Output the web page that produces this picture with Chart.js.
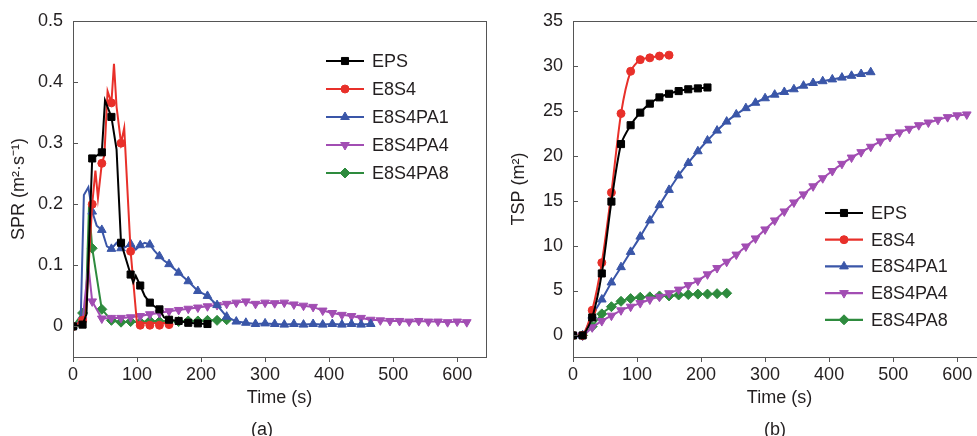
<!DOCTYPE html>
<html>
<head>
<meta charset="utf-8">
<script src="https://cdn.jsdelivr.net/npm/chart.js@4.4.0/dist/chart.umd.min.js"></script>
<style>
body{margin:0;width:977px;height:436px;overflow:hidden;background:#fff;font-family:"Liberation Sans",Arial,sans-serif}
.panel{position:absolute;top:0;width:500px;height:436px}
.cap{position:absolute;top:419px;font-size:18px;line-height:20px;color:#231f20;width:60px;text-align:center}
</style>
</head>
<body>
<div class="panel" style="left:0"><canvas id="spr" width="500" height="436"></canvas></div>
<div class="panel" style="left:500px"><canvas id="tsp" width="500" height="436"></canvas></div>
<div class="cap" style="left:232px">(a)</div>
<div class="cap" style="left:745px">(b)</div>
<script>
// series names
const names = ["EPS","E8S4","E8S4PA1","E8S4PA4","E8S4PA8"];

// (a) smoke production rate, m2/s
const epsT   = [0,15,21,30,45,50,60,68,75,90,94,98,105,112,120,127,135,142,150,165,180,195,210];
const epsSPR = [0,0.003,0.02,0.275,0.285,0.37,0.343,0.29,0.137,0.085,0.072,0.083,0.067,0.05,0.039,0.033,0.028,0.015,0.011,0.009,0.006,0.005,0.004];

const e8s4T   = [0,15,20,30,35,39,45,49,54,60,64,68,75,80,90,100,105,112,120,127,135,142,150];
const e8s4SPR = [0,0.01,0.02,0.2,0.255,0.21,0.267,0.28,0.385,0.366,0.43,0.36,0.3,0.325,0.123,0.004,0.002,0.006,0.002,0.006,0.002,0.006,0.003];

const pa1T   = [0,12,17,24,30,37,45,53,60,68,75,82,90,98,105,112,120,127,135,142,150,165,180,195,210,225,240,255,270,285,300,315,330,345,360,375,390,405,420,435,450,465];
const pa1SPR = [0,0.01,0.215,0.228,0.188,0.165,0.158,0.131,0.127,0.137,0.128,0.13,0.135,0.126,0.133,0.137,0.134,0.124,0.115,0.108,0.102,0.088,0.074,0.058,0.05,0.035,0.016,0.008,0.006,0.004,0.005,0.004,0.003,0.004,0.003,0.004,0.003,0.004,0.003,0.004,0.003,0.004];

const pa4T   = [0,15,24,30,45,60,75,90,105,120,135,150,165,180,195,210,225,240,255,270,285,300,315,330,345,360,375,390,405,420,435,450,465,480,495,510,525,540,555,570,585,600,615];
const pa4SPR = [0,0.01,0.099,0.041,0.013,0.014,0.014,0.015,0.017,0.02,0.022,0.025,0.027,0.029,0.031,0.033,0.035,0.037,0.039,0.041,0.037,0.039,0.038,0.039,0.036,0.034,0.032,0.026,0.022,0.019,0.017,0.014,0.011,0.01,0.009,0.009,0.008,0.009,0.008,0.008,0.007,0.008,0.007];

const pa8T   = [0,15,20,25,30,45,60,75,90,105,120,135,150,165,180,195,210,225,240];
const pa8SPR = [0,0.022,0.03,0.197,0.128,0.028,0.01,0.007,0.008,0.007,0.009,0.008,0.009,0.008,0.009,0.009,0.01,0.01,0.011];

// (b) total smoke production, m2 (sampled every 15 s)
const tspT = [0,15,30,45,60,75,90,105,120,135,150,165,180,195,210,225,240,255,270,285,300,315,330,345,360,375,390,405,420,435,450,465,480,495,510,525,540,555,570,585,600,615];
const epsTSP  = [0,0,2.0,6.9,14.9,21.3,23.4,24.8,25.8,26.5,26.9,27.2,27.4,27.5,27.6];
const e8s4TSP = [0,0,2.8,8.1,15.9,24.7,29.4,30.7,30.9,31.1,31.2];
const pa1TSP  = [0,0,2.2,4.0,5.9,7.6,9.3,11.0,12.8,14.5,16.2,17.8,19.2,20.5,21.7,22.8,23.8,24.6,25.3,25.9,26.4,26.8,27.1,27.4,27.8,28.1,28.3,28.5,28.7,28.9,29.1,29.3];
const pa4TSP  = [0,0,0.9,1.6,2.2,2.8,3.2,3.6,4.0,4.3,4.7,5.1,5.6,6.1,6.8,7.5,8.2,9.0,9.9,10.8,11.8,12.8,13.8,14.8,15.7,16.6,17.5,18.3,19.1,19.8,20.4,21.0,21.6,22.1,22.6,23.0,23.4,23.7,24.0,24.3,24.5,24.6];
const pa8TSP  = [0,0,1.0,2.4,3.2,3.8,4.1,4.25,4.3,4.4,4.4,4.5,4.55,4.6,4.6,4.65,4.7];

// ticks
const xTicks = [0,100,200,300,400,500,600];
const sprTicks = [0,0.1,0.2,0.3,0.4,0.5];
const tspTicks = [0,5,10,15,20,25,30,35];

const colors = ["#000000","#e8302a","#3a56a8","#a24db3","#2e8b3e"];
const styles = [
  {pointStyle:"rect", radius:5, rotation:0},
  {pointStyle:"circle", radius:4, rotation:0},
  {pointStyle:"triangle", radius:5, rotation:0},
  {pointStyle:"triangle", radius:5, rotation:180},
  {pointStyle:"rectRot", radius:5, rotation:0}
];
const txt = "#231f20";
const font = {family:"'Liberation Sans', Arial, sans-serif", size:18};

function pairs(t, v){
  return v.map((y,i) => ({x:t[i], y:y}));
}

// box round plot area + inward y ticks
const boxPlugin = {
  id:"box",
  afterDraw(chart){
    const c = chart.ctx, a = chart.chartArea, y = chart.scales.y;
    c.save();
    c.strokeStyle = "#555"; c.lineWidth = 1;
    c.strokeRect(a.left+0.5, a.top+0.5, a.right-a.left, a.bottom-a.top);
    c.beginPath();
    y.ticks.forEach(t => {
      let py = Math.round(y.getPixelForValue(t.value))+0.5;
      c.moveTo(a.left, py); c.lineTo(a.left+5, py);
    });
    c.stroke();
    c.restore();
  }
};

// legend drawn on the canvas
const legendPlugin = {
  id:"sketchLegend",
  afterDraw(chart, args, opts){
    const c = chart.ctx;
    c.save();
    chart.data.datasets.forEach((ds,i) => {
      let y = opts.y + i*opts.gap;
      c.strokeStyle = ds.borderColor; c.lineWidth = 2.2;
      c.beginPath(); c.moveTo(opts.x, y); c.lineTo(opts.x+38, y); c.stroke();
      c.fillStyle = ds.borderColor; c.lineWidth = 1;
      Chart.helpers.drawPoint(c, {pointStyle:styles[i].pointStyle, radius:styles[i].radius, rotation:styles[i].rotation, borderWidth:1}, opts.x+19, y);
      c.fillStyle = txt; c.font = "18px 'Liberation Sans', Arial, sans-serif";
      c.textBaseline = "middle";
      c.fillText(ds.label, opts.x+46, y+1);
    });
    c.restore();
  }
};

function makeChart(id, series, yMin, yMax, yTicks, yTitle, legend, everyPoint){
  const datasets = series.map((s,i) => ({
    label:names[i],
    data:s,
    borderColor:colors[i],
    backgroundColor:colors[i],
    borderWidth:2,
    tension: everyPoint ? 0.25 : 0,
    pointStyle:styles[i].pointStyle,
    rotation:styles[i].rotation,
    pointBorderWidth:1,
    pointRadius: ctx => {
      if (everyPoint) return styles[i].radius;
      return (ctx.raw && ctx.raw.x % 15 === 0) ? styles[i].radius : 0;
    }
  }));
  return new Chart(document.getElementById(id), {
    type:"line",
    data:{datasets:datasets},
    options:{
      responsive:false,
      animation:false,
      layout:{padding:{top:21,right:14,bottom:19,left:0}},
      plugins:{legend:{display:false}, tooltip:{enabled:false}, sketchLegend:legend},
      scales:{
        x:{
          type:"linear", min:0, max:645,
          afterBuildTicks: s => { s.ticks = xTicks.map(v => ({value:v})); },
          afterFit: s => { s.height = 60; },
          ticks:{font:font, color:txt, padding:2, maxRotation:0},
          grid:{drawOnChartArea:false, drawTicks:true, tickLength:5, color:"#555"},
          border:{color:"#555"},
          title:{display:true, text:"Time (s)", font:font, color:txt, padding:{top:0,bottom:8}}
        },
        y:{
          type:"linear", min:yMin, max:yMax,
          afterBuildTicks: s => { s.ticks = yTicks.map(v => ({value:v})); },
          afterFit: s => { s.width = 73; },
          ticks:{font:font, color:txt, padding:10},
          grid:{drawOnChartArea:false, drawTicks:false},
          border:{color:"#555"},
          title:{display:true, text:yTitle, font:font, color:txt, padding:{top:8,bottom:0}}
        }
      }
    },
    plugins:[boxPlugin, legendPlugin]
  });
}

makeChart("spr", [
  pairs(epsT,epsSPR), pairs(e8s4T,e8s4SPR), pairs(pa1T,pa1SPR), pairs(pa4T,pa4SPR), pairs(pa8T,pa8SPR)
], -0.05, 0.5, sprTicks, "SPR (m²·s⁻¹)", {x:326, y:61, gap:28}, false);

makeChart("tsp", [
  pairs(tspT,epsTSP), pairs(tspT,e8s4TSP), pairs(tspT,pa1TSP), pairs(tspT,pa4TSP), pairs(tspT,pa8TSP)
], -2.4, 35, tspTicks, "TSP (m²)", {x:325, y:213, gap:26.7}, true);
</script>
</body>
</html>
